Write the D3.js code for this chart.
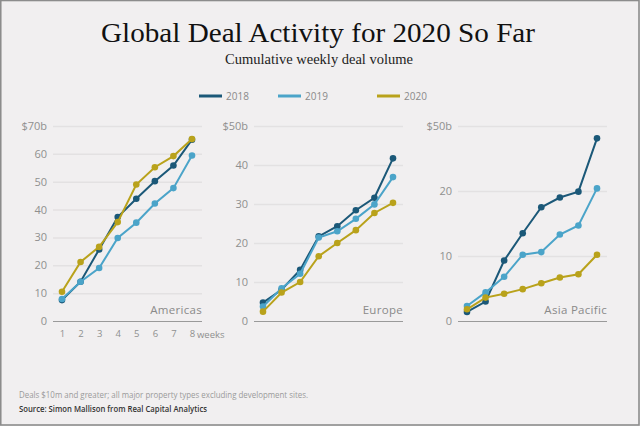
<!DOCTYPE html>
<html>
<head>
<meta charset="utf-8">
<script src="https://cdn.jsdelivr.net/npm/d3@7"></script>
<style>
  html, body { margin: 0; padding: 0; background: #f1eff0; }
  svg { display: block; }
  text { font-family: "Open Sans", "Noto Sans", sans-serif; }
</style>
</head>
<body>
<svg id="chart" width="640" height="426"></svg>
<script>
// ---- Data ----
const weeks = [1, 2, 3, 4, 5, 6, 7, 8];
const years = ["2018", "2019", "2020"];
const colors = ["#1b5878", "#4ba4c9", "#b9a21b"];

const americas2018 = [7.5, 14.1, 25.7, 37.3, 43.9, 50.2, 55.8, 65.1];
const americas2019 = [7.9, 14.1, 19.0, 29.8, 35.3, 42.2, 47.7, 59.4];
const americas2020 = [10.5, 21.2, 26.6, 35.5, 49.0, 55.2, 59.2, 65.3];

const europe2018 = [4.7, 8.0, 13.1, 21.7, 24.3, 28.4, 31.6, 41.7];
const europe2019 = [3.7, 8.4, 12.1, 21.4, 23.0, 26.2, 29.9, 36.9];
const europe2020 = [2.4, 7.3, 10.0, 16.6, 20.0, 23.3, 27.7, 30.3];

const asia2018 = [1.4, 3.0, 9.3, 13.5, 17.5, 19.0, 19.9, 28.1];
const asia2019 = [2.3, 4.4, 6.8, 10.2, 10.6, 13.3, 14.7, 20.4];
const asia2020 = [1.8, 3.6, 4.2, 4.9, 5.8, 6.7, 7.2, 10.2];

const americasTicks = [0, 10, 20, 30, 40, 50, 60, 70];
const americasTickLabels = ["0", "10", "20", "30", "40", "50", "60", "$70b"];
const europeTicks = [0, 10, 20, 30, 40, 50];
const europeTickLabels = ["0", "10", "20", "30", "40", "$50b"];
const asiaTicks = [0, 10, 20, 30];
const asiaTickLabels = ["0", "10", "20", "$50b"];

const regions = [
  { name: "Americas", series: [americas2018, americas2019, americas2020], ticks: americasTicks, labels: americasTickLabels, x0: 53, showX: true },
  { name: "Europe", series: [europe2018, europe2019, europe2020], ticks: europeTicks, labels: europeTickLabels, x0: 254, showX: false },
  { name: "Asia Pacific", series: [asia2018, asia2019, asia2020], ticks: asiaTicks, labels: asiaTickLabels, x0: 458, showX: false }
];

// ---- Drawing ----
const svg = d3.select("#chart");

svg.append("rect").attr("x", 0).attr("y", 0).attr("width", 640).attr("height", 426).attr("fill", "#f1eff0");

// Title
svg.append("text").attr("x", 318).attr("y", 42).attr("text-anchor", "middle")
  .attr("font-size", 28).attr("fill", "#111")
  .attr("textLength", 434).attr("lengthAdjust", "spacingAndGlyphs")
  .style("font-family", "'Liberation Serif', 'DejaVu Serif', serif")
  .text("Global Deal Activity for 2020 So Far");
svg.append("text").attr("x", 319).attr("y", 63.5).attr("text-anchor", "middle")
  .attr("font-size", 14.5).attr("fill", "#222")
  .attr("textLength", 188).attr("lengthAdjust", "spacingAndGlyphs")
  .style("font-family", "'Liberation Serif', 'DejaVu Serif', serif")
  .text("Cumulative weekly deal volume");

// Legend
const legendX = [199, 278, 377];
years.forEach((y, i) => {
  svg.append("line").attr("x1", legendX[i]).attr("x2", legendX[i] + 23)
    .attr("y1", 96).attr("y2", 96).attr("stroke", colors[i]).attr("stroke-width", 3);
  svg.append("text").attr("x", legendX[i] + 27).attr("y", 99.5)
    .attr("font-size", 10).attr("fill", "#8a8a8a").text(y);
});

const panelW = 149;
const yTop = 126, yBot = 321;

regions.forEach(r => {
  const x = d3.scaleLinear().domain([1, 8]).range([r.x0 + 9, r.x0 + panelW - 10]);
  const yMax = r.ticks[r.ticks.length - 1];
  const y = d3.scaleLinear().domain([0, yMax]).range([yBot, yTop]);
  const g = svg.append("g");

  // gridlines + y labels
  const yAxis = d3.axisLeft(y).tickValues(r.ticks)
    .tickFormat((d, i) => r.labels[i]).tickSize(-panelW).tickPadding(6);
  const ya = g.append("g").attr("transform", `translate(${r.x0},0)`).call(yAxis);
  ya.select(".domain").remove();
  ya.selectAll(".tick line").attr("stroke", "#e3e1e2").attr("stroke-width", 1.5);
  ya.selectAll(".tick text").attr("fill", "#8f8f8f").attr("font-size", 11)
    .style("font-family", "'Open Sans', sans-serif");
  ya.selectAll(".tick").filter(d => d === 0).select("line")
    .attr("stroke", "#9a9a9a").attr("stroke-width", 1.2);

  // x axis
  if (r.showX) {
    const xAxis = d3.axisBottom(x).tickValues(weeks).tickSize(0).tickPadding(9)
      .tickFormat(d => d);
    const xa = g.append("g").attr("transform", `translate(0,${yBot})`).call(xAxis);
    xa.select(".domain").remove();
    xa.selectAll(".tick text").attr("fill", "#8f8f8f").attr("font-size", 9.5);
    g.append("text").attr("x", x(8) + 5).attr("y", yBot + 16.5)
      .attr("font-size", 9.5).attr("fill", "#8f8f8f").text("weeks");
  }

  // region label
  g.append("text").attr("x", r.x0 + panelW).attr("y", yBot - 7)
    .attr("text-anchor", "end").attr("font-size", 11.5).attr("fill", "#8a8a8a")
    .attr("letter-spacing", 0.3).text(r.name);

  const line = d3.line().x((d, i) => x(weeks[i])).y(d => y(d));
  r.series.forEach((s, k) => {
    g.append("path").datum(s).attr("d", line).attr("fill", "none")
      .attr("stroke", colors[k]).attr("stroke-width", 2);
    g.selectAll(null).data(s).enter().append("circle")
      .attr("cx", (d, i) => x(weeks[i])).attr("cy", d => y(d)).attr("r", 3.3)
      .attr("fill", colors[k]);
  });
});

// Footer
svg.append("text").attr("x", 19).attr("y", 397.5).attr("font-size", 8.3).attr("fill", "#9a9a9a")
  .attr("textLength", 289).attr("lengthAdjust", "spacingAndGlyphs")
  .text("Deals $10m and greater; all major property types excluding development sites.");
svg.append("text").attr("x", 19).attr("y", 411.5).attr("font-size", 8.3).attr("fill", "#333")
  .attr("font-weight", 600).attr("textLength", 188).attr("lengthAdjust", "spacingAndGlyphs")
  .text("Source: Simon Mallison from Real Capital Analytics");

// Border
svg.append("rect").attr("x", 0.75).attr("y", 0.5).attr("width", 638.25).attr("height", 424.5)
  .attr("fill", "none").attr("stroke", "#8c8c8c").attr("stroke-width", 1.6);
</script>
</body>
</html>
